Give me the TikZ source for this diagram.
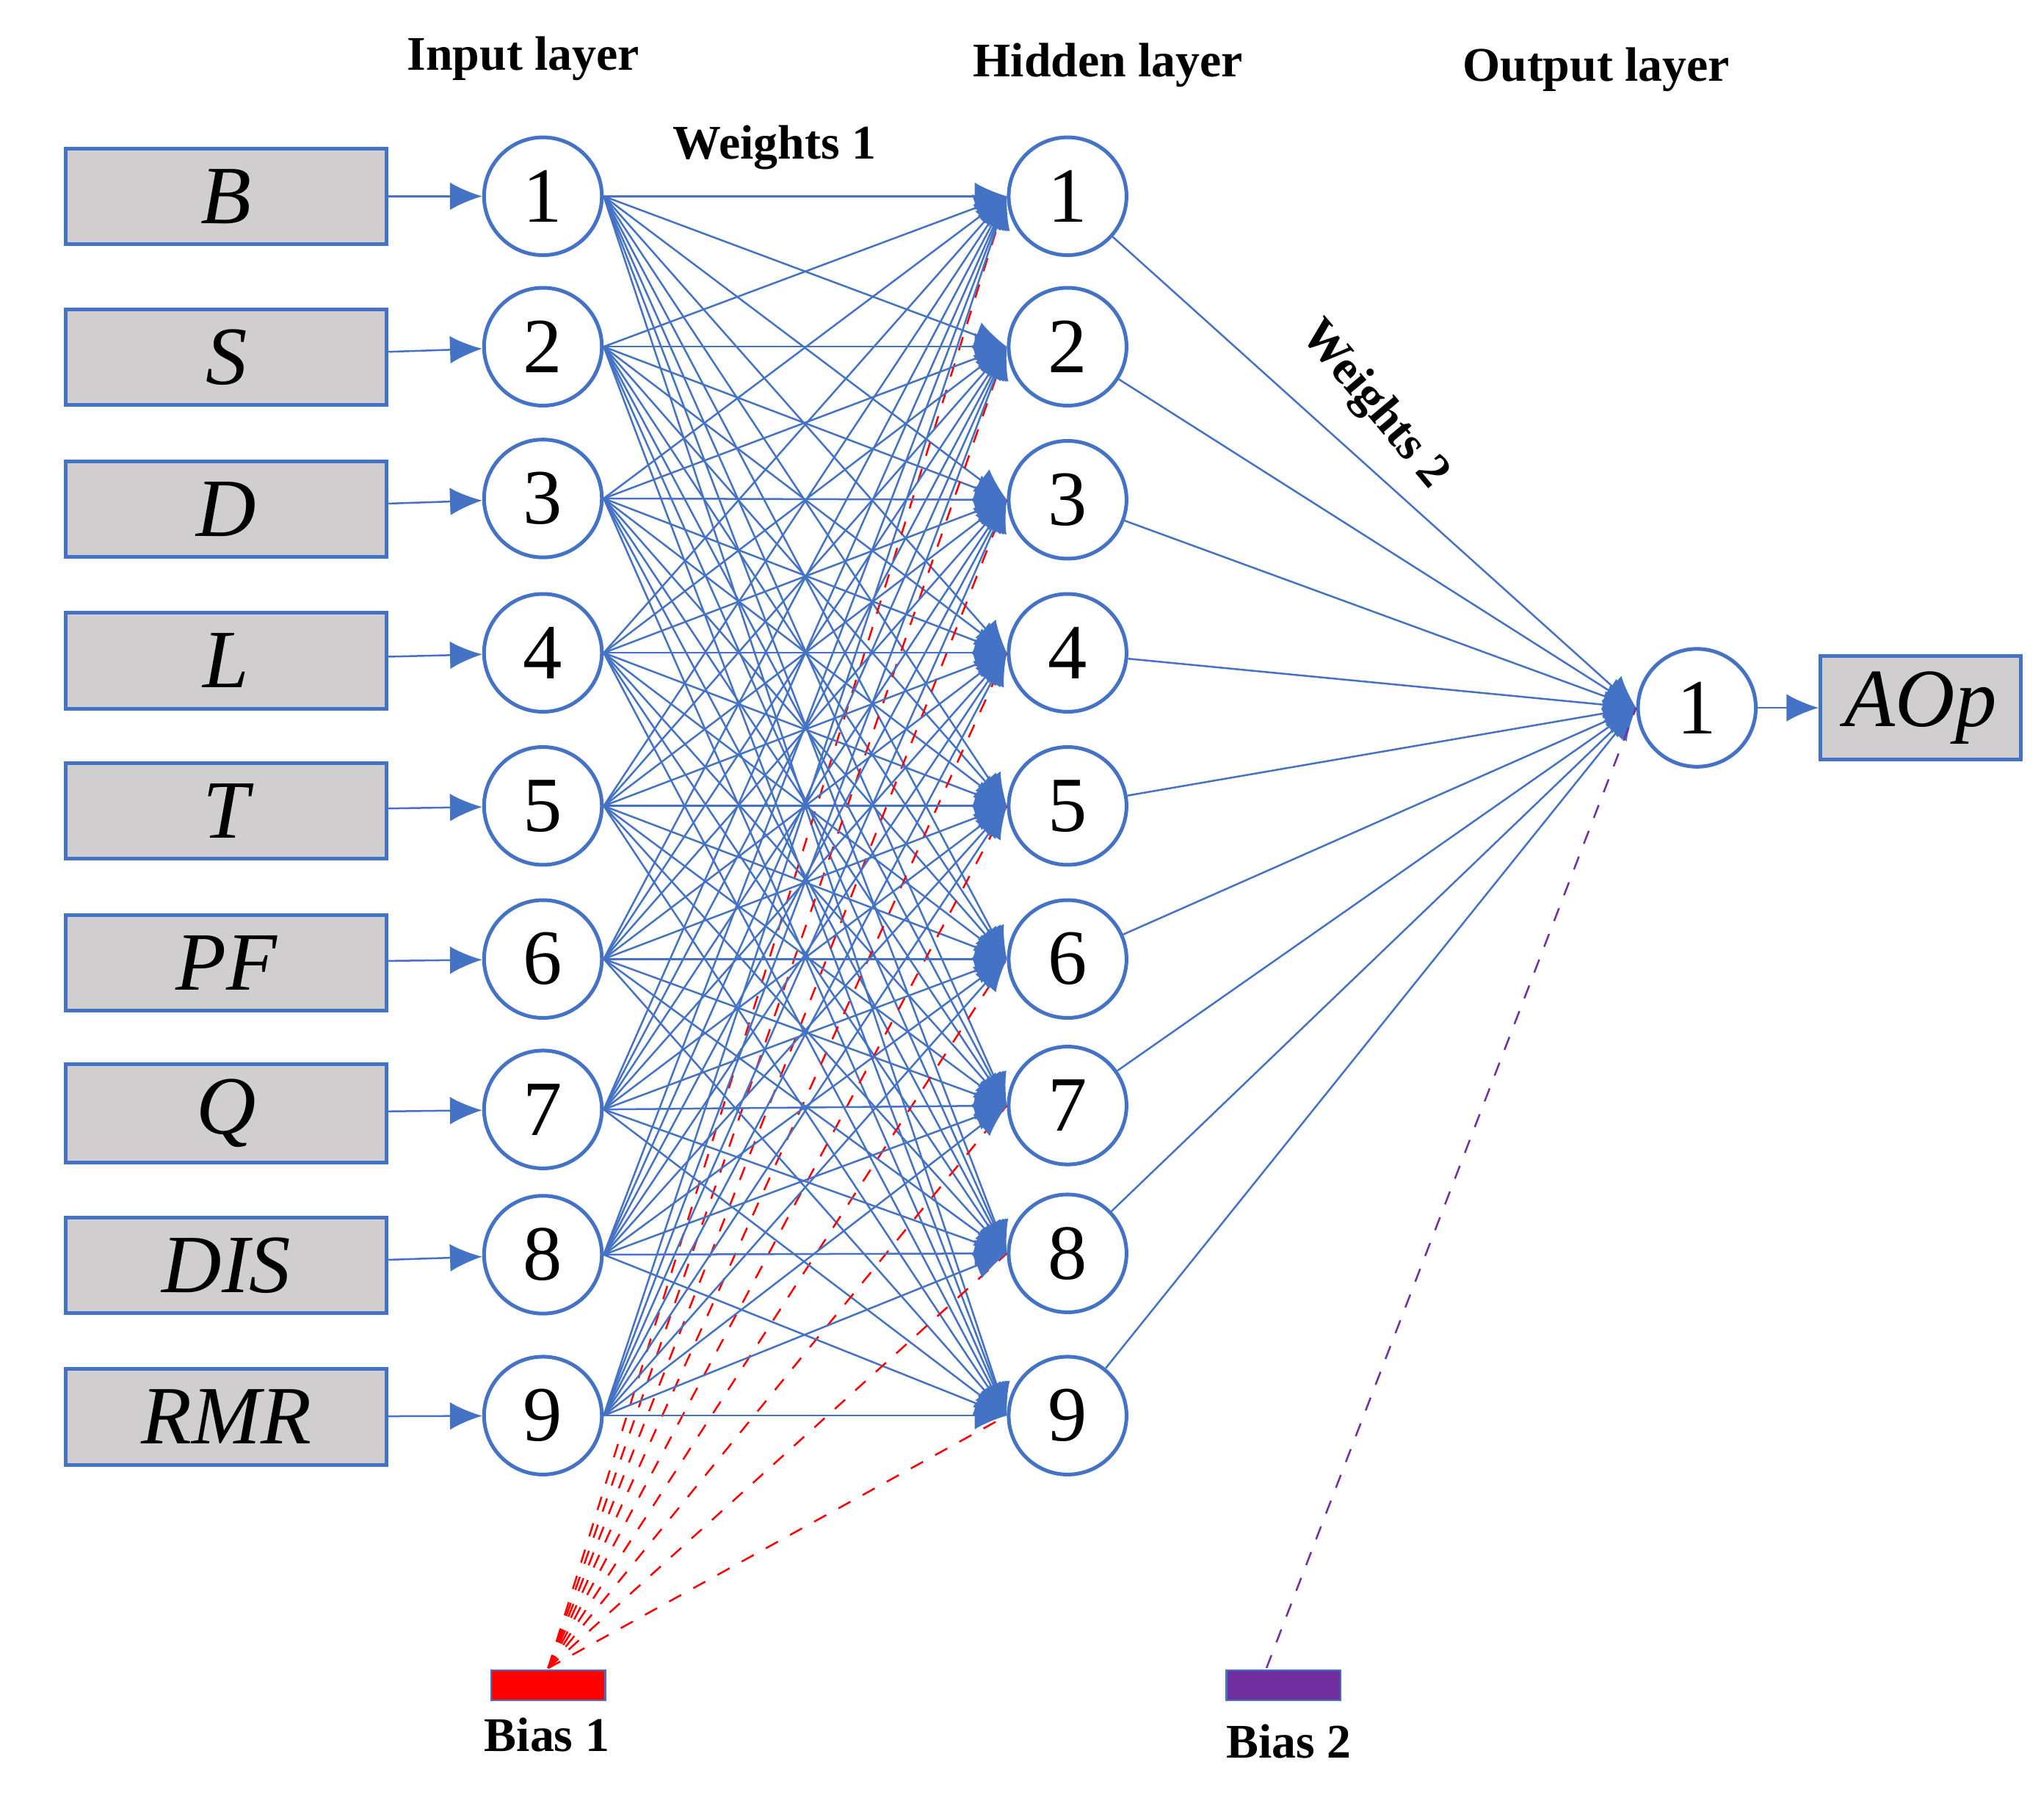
\documentclass[tikz,border=0pt]{standalone}
\usepackage{fontspec}
\setmainfont{Liberation Serif}
\usetikzlibrary{arrows.meta}
\definecolor{bl}{HTML}{4472C4}
\definecolor{gb}{HTML}{D0CECE}
\definecolor{pu}{HTML}{7030A0}
\begin{document}
\begin{tikzpicture}[x=0.01cm,y=-0.01cm,
  neu/.style={circle,draw=bl,thick,fill=white,minimum size=0.9cm,inner sep=0pt,font=\fontsize{17}{17}\selectfont},
  box/.style={draw=bl,thick,fill=gb,minimum width=2.45cm,minimum height=0.73cm,font=\fontsize{18}{18}\selectfont\itshape},
  lab/.style={font=\fontsize{10.5}{10.5}\selectfont\bfseries},
  con/.style={draw=bl,-{Latex[length=7pt,width=6pt]}},
  rb/.style={draw=red,dashed,thin},
]
\useasboundingbox (0,0) rectangle (1560,1391);
\foreach \i/\t/\yb/\yi/\yh in {1/B/150/150/150,2/S/273/265/265,3/D/389/381/382,4/L/505/499/499,5/T/620/616/616,6/PF/736/733/733,7/Q/851/848/845,8/DIS/967/959/958,9/RMR/1083/1082/1082}{
  \node[box] (b\i) at (173,\yb) {\t};
  \node[neu] (i\i) at (415,\yi) {\i};
  \node[neu] (h\i) at (816,\yh) {\i};
}
\node[neu] (o1) at (1297,541) {1};
\node[box,minimum width=1.53cm] (aop) at (1468,541) {AOp};
\node[draw=bl,fill=red,minimum width=0.87cm,minimum height=0.23cm,inner sep=0pt] (bias1) at (419,1288) {};
\node[draw=bl,fill=pu,minimum width=0.87cm,minimum height=0.23cm,inner sep=0pt] (bias2) at (981,1288) {};
\node[lab] (t1) at (400,45) {Input layer};
\node[lab] (t2) at (847,50) {Hidden layer};
\node[lab] (t3) at (1220,53) {Output layer};
\node[lab] (w1) at (592,113) {Weights 1};
\node[lab,rotate=-50,inner sep=0pt] (w2) at (1050,310) {Weights 2};
\node[lab] (bl1) at (418,1326) {Bias 1};
\node[lab] (bl2) at (985,1331) {Bias 2};
\coordinate (bt1) at (419,1275);
\coordinate (bt2) at (968,1275);
\foreach \i in {1,...,9}{
  \draw[con] (b\i) -- (i\i);
  \foreach \j in {1,...,9}{ \draw[con] (i\i.east) -- (h\j.west); }
  \draw[rb] (bt1) -- (h\i.west);
  \draw[con] (h\i) -- (o1.west);
}
\draw[con] (o1) -- (aop);
\draw[draw=pu,dashed] (bt2) -- (o1.west);
\end{tikzpicture}
\end{document}
